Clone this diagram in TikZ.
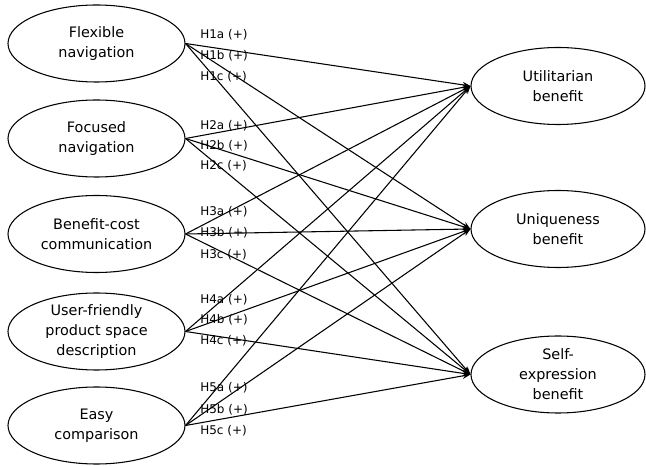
\documentclass[tikz,border=0pt]{standalone}
\usepackage{fontspec}
\setmainfont{DejaVu Sans}
\usetikzlibrary{shapes.geometric,arrows.meta}
\begin{document}
\begin{tikzpicture}[x=0.75pt,y=-0.75pt,
  construct/.style={draw,ellipse,inner sep=0pt,minimum width=177*0.75pt,minimum height=77*0.75pt,
    align=center,font=\fontsize{10.8}{15}\selectfont,line width=0.8pt},
  rconstruct/.style={construct,minimum width=174*0.75pt},
  hyp/.style={anchor=west,inner sep=0pt,font=\fontsize{9}{10}\selectfont},
  path/.style={draw,line width=0.8pt,-{Stealth[length=6pt,width=4.5pt]}}]
\useasboundingbox (0,0) rectangle (646,466);
\node[construct] (f1) at (96.5,43.5) {Flexible\\navigation};
\node[construct] (f2) at (96.5,138.5) {Focused\\navigation};
\node[construct] (f3) at (96.5,234) {Benefit-cost\\communication};
\node[construct] (f4) at (96.5,331.5) {User-friendly\\product space\\description};
\node[construct] (f5) at (96.5,425.5) {Easy\\comparison};
\node[rconstruct] (u) at (558,86) {Utilitarian\\benefit};
\node[rconstruct] (q) at (558,229) {Uniqueness\\benefit};
\node[rconstruct] (s) at (558,374.5) {Self-\\expression\\benefit};
\foreach \f in {f1,f2,f3,f4,f5}{
  \foreach \t in {u,q,s}{
    \draw[path] (\f.east) -- (\t.west);
  }
}
\node[hyp] (h1a) at (200,35) {H1a (+)};
\node[hyp] (h1b) at (200,56) {H1b (+)};
\node[hyp] (h1c) at (200,77) {H1c (+)};
\node[hyp] (h2a) at (200,126) {H2a (+)};
\node[hyp] (h2b) at (200,146) {H2b (+)};
\node[hyp] (h2c) at (200,166) {H2c (+)};
\node[hyp] (h3a) at (200,212) {H3a (+)};
\node[hyp] (h3b) at (200,233) {H3b (+)};
\node[hyp] (h3c) at (200,255) {H3c (+)};
\node[hyp] (h4a) at (200,300) {H4a (+)};
\node[hyp] (h4b) at (200,320) {H4b (+)};
\node[hyp] (h4c) at (200,341) {H4c (+)};
\node[hyp] (h5a) at (200,388) {H5a (+)};
\node[hyp] (h5b) at (200,410) {H5b (+)};
\node[hyp] (h5c) at (200,431) {H5c (+)};
\end{tikzpicture}
\end{document}
